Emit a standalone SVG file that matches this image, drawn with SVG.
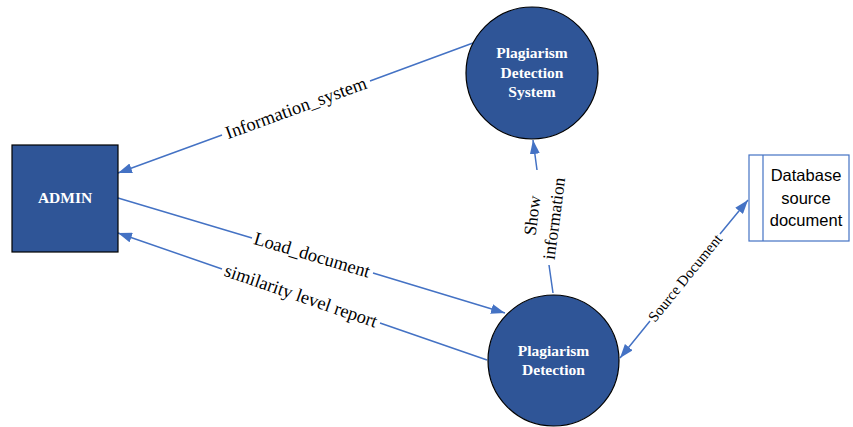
<svg xmlns="http://www.w3.org/2000/svg" width="853" height="427" viewBox="0 0 853 427">
<style>
.edge{fill:none;stroke:#4472C4;stroke-width:1.5}
.node{fill:#2F5597;stroke:#000;stroke-width:1.2}
.ntext{font-family:"Liberation Serif",serif;font-weight:bold;fill:#fff;text-anchor:middle}
.lbl{font-family:"Liberation Serif",serif;fill:#000;text-anchor:middle;dominant-baseline:central}
.db{fill:#fff;stroke:#4472C4;stroke-width:1.2}
.dbtext{font-family:"Liberation Sans",Arial,sans-serif;font-size:16.5px;fill:#000;text-anchor:middle}
</style>
<defs>
<marker id="arr" viewBox="0 0 14 10" refX="14" refY="5" markerWidth="14" markerHeight="10" markerUnits="userSpaceOnUse" orient="auto-start-reverse">
<path d="M0,0 L14,5 L0,10 Z" fill="#4472C4"/>
</marker>
</defs>
<rect width="853" height="427" fill="#fff"/>
<g id="connectors">
<path class="edge" d="M473,43 L370,81 M222,135 L118,173" marker-end="url(#arr)"/>
<path class="edge" d="M118,198 L252,238 M373,273 L505,313" marker-end="url(#arr)"/>
<path class="edge" d="M487,360 L380,323 M222,269 L118,233" marker-end="url(#arr)"/>
<path class="edge" d="M553,293 L549,265 M537,170 L533,140" marker-end="url(#arr)"/>
<path class="edge" d="M620,358 L650,321 M720,234 L748,200" marker-start="url(#arr)" marker-end="url(#arr)"/>
<text class="lbl" font-size="18.5" transform="translate(296,108) rotate(-20.1)">Information_system</text>
<text class="lbl" font-size="18.5" transform="translate(312,255) rotate(16.5)">Load_document</text>
<text class="lbl" font-size="18.5" transform="translate(301,296) rotate(19)">similarity level report</text>
<text class="lbl" font-size="17.5" transform="translate(543,217) rotate(-82.5)"><tspan x="0" y="-11">Show</tspan><tspan x="0" y="11">information</tspan></text>
<text class="lbl" font-size="15" transform="translate(685,278) rotate(-51)">Source Document</text>
</g>
<g id="admin">
<rect class="node" x="12" y="145" width="106" height="107"/>
<text class="ntext" x="65" y="203" font-size="15.5">ADMIN</text>
</g>
<g id="pds">
<circle class="node" cx="532" cy="73" r="66"/>
<text class="ntext" font-size="15.5"><tspan x="532" y="58">Plagiarism</tspan><tspan x="532" y="78">Detection</tspan><tspan x="532" y="97">System</tspan></text>
</g>
<g id="pd">
<circle class="node" cx="553.5" cy="360.5" r="65.5"/>
<text class="ntext" font-size="15.5"><tspan x="553.5" y="356">Plagiarism</tspan><tspan x="553.5" y="375">Detection</tspan></text>
</g>
<g id="database">
<rect class="db" x="749" y="155" width="100" height="86"/>
<line class="db" x1="763" y1="155" x2="763" y2="241"/>
<text class="dbtext"><tspan x="806" y="181">Database</tspan><tspan x="806" y="204">source</tspan><tspan x="806" y="226">document</tspan></text>
</g>
</svg>
